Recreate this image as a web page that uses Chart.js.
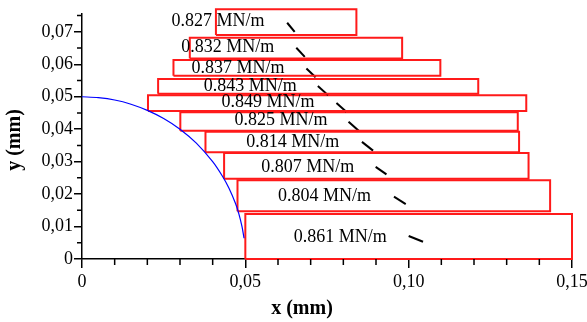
<!DOCTYPE html>
<html>
<head>
<meta charset="utf-8">
<script src="https://cdn.jsdelivr.net/npm/chart.js@4.4.1/dist/chart.umd.min.js"></script>
<style>
  body { margin: 0; background: #fff; }
  #wrap { width: 587px; height: 322px; }
</style>
</head>
<body>
<div id="wrap"><canvas id="myChart"></canvas></div>
<script>
// surface tension labels, top rectangle first
var labels = ['0.827 MN/m', '0.832 MN/m', '0.837 MN/m', '0.843 MN/m', '0.849 MN/m',
              '0.825 MN/m', '0.814 MN/m', '0.807 MN/m', '0.804 MN/m', '0.861 MN/m'];
var labelX = [0.0274, 0.0304, 0.0335, 0.0373, 0.0427, 0.0467, 0.0503, 0.0549, 0.0600, 0.0648];
var labelY = [0.0733, 0.0651, 0.0587, 0.0533, 0.0484, 0.0428, 0.0361, 0.0284, 0.0192, 0.0067];

// red boxes
var rectLeft   = [0.0410, 0.0330, 0.0280, 0.0233, 0.0202, 0.0301, 0.0378, 0.0435, 0.0476, 0.0500];
var rectRight  = [0.0840, 0.0980, 0.1097, 0.1213, 0.1360, 0.1334, 0.1338, 0.1367, 0.1433, 0.1500];
var rectBottom = [0.0690, 0.0618, 0.0565, 0.0509, 0.0456, 0.0395, 0.0329, 0.0247, 0.0147, 0.0000];
var rectTop    = [0.0770, 0.0682, 0.0613, 0.0555, 0.0505, 0.0452, 0.0392, 0.0327, 0.0243, 0.0139];

// short black strokes
var segX1 = [0.0628, 0.0656, 0.0687, 0.0722, 0.0779, 0.0816, 0.0857, 0.0899, 0.0955, 0.1000];
var segY1 = [0.0728, 0.0651, 0.0587, 0.0533, 0.0481, 0.0423, 0.0361, 0.0284, 0.0192, 0.0071];
var segX2 = [0.0651, 0.0682, 0.0715, 0.0753, 0.0809, 0.0847, 0.0891, 0.0932, 0.0991, 0.1044];
var segY2 = [0.0700, 0.0623, 0.0560, 0.0505, 0.0454, 0.0395, 0.0334, 0.0261, 0.0169, 0.0053];

// blue profile
var curveX = [0, 0.005, 0.010, 0.015, 0.020, 0.025, 0.030, 0.035, 0.040, 0.043, 0.045, 0.047, 0.048, 0.049, 0.0496];
var curveY = [0.0500, 0.0497, 0.0490, 0.0477, 0.0458, 0.0433, 0.0400, 0.0357, 0.0300, 0.0255, 0.0218, 0.0171, 0.0140, 0.0099, 0.0064];

var xTicks = [0, 0.05, 0.10, 0.15];
var xTickLabels = ['0', '0,05', '0,10', '0,15'];
var xMinor = [0.01, 0.02, 0.03, 0.04, 0.06, 0.07, 0.08, 0.09, 0.11, 0.12, 0.13, 0.14];
var yTicks = [0, 0.01, 0.02, 0.03, 0.04, 0.05, 0.06, 0.07];
var yTickLabels = ['0', '0,01', '0,02', '0,03', '0,04', '0,05', '0,06', '0,07'];
var yMinor = [0.005, 0.015, 0.025, 0.035, 0.045, 0.055, 0.065, 0.075];

var serif = "'Liberation Serif', 'Times New Roman', serif";

var datasets = [];
datasets.push({
    data: curveX.map((x, i) => ({x: x, y: curveY[i]})),
    borderColor: '#0000ff',
    borderWidth: 1.2,
    pointRadius: 0,
    tension: 0.3
});
for (var i = 0; i < labels.length; i++) {
    datasets.push({
        data: [
            {x: rectLeft[i], y: rectBottom[i]},
            {x: rectRight[i], y: rectBottom[i]},
            {x: rectRight[i], y: rectTop[i]},
            {x: rectLeft[i], y: rectTop[i]},
            {x: rectLeft[i], y: rectBottom[i]}
        ],
        borderColor: '#ff1a1a',
        borderWidth: 2,
        pointRadius: 0,
        clip: false
    });
    datasets.push({
        data: [{x: segX1[i], y: segY1[i]}, {x: segX2[i], y: segY2[i]}],
        borderColor: '#000',
        borderWidth: 2,
        pointRadius: 0
    });
}

// text labels, minor ticks and axis titles
var extras = {
    id: 'extras',
    afterDatasetsDraw(chart) {
        var ctx = chart.ctx, xs = chart.scales.x, ys = chart.scales.y;
        ctx.save();
        ctx.fillStyle = '#000';
        ctx.font = '18px ' + serif;
        ctx.textAlign = 'left';
        ctx.textBaseline = 'middle';
        labels.forEach((t, i) => {
            ctx.fillText(t, xs.getPixelForValue(labelX[i]), ys.getPixelForValue(labelY[i]));
        });

        ctx.strokeStyle = '#000';
        ctx.lineWidth = 1.5;
        ctx.beginPath();
        xMinor.forEach(v => {
            var px = xs.getPixelForValue(v);
            ctx.moveTo(px, xs.top);
            ctx.lineTo(px, xs.top + 6);
        });
        yMinor.forEach(v => {
            var py = ys.getPixelForValue(v);
            ctx.moveTo(ys.right, py);
            ctx.lineTo(ys.right - 5, py);
        });
        ctx.stroke();

        ctx.font = 'bold 20px ' + serif;
        ctx.textAlign = 'center';
        ctx.fillText('x (mm)', 302, 309);
        ctx.translate(15, 140);
        ctx.rotate(-Math.PI / 2);
        ctx.fillText('y (mm)', 0, 0);
        ctx.restore();
    }
};

const ctx = document.getElementById('myChart');
new Chart(ctx, {
    type: 'line',
    data: { datasets: datasets },
    plugins: [extras],
    options: {
        responsive: true,
        maintainAspectRatio: false,
        animation: false,
        layout: { padding: { top: 14, right: 15, left: 0, bottom: 0 } },
        plugins: { legend: { display: false }, tooltip: { enabled: false } },
        scales: {
            x: {
                type: 'linear',
                min: 0,
                max: 0.15,
                afterBuildTicks: s => { s.ticks = xTicks.map(v => ({value: v})); },
                afterFit: s => { s.height = 63; s.paddingRight = 0; s.paddingLeft = 0; },
                ticks: {
                    autoSkip: false,
                    maxRotation: 0,
                    padding: 3,
                    color: '#000',
                    font: { family: serif, size: 18 },
                    callback: (v, i) => xTickLabels[i]
                },
                grid: { drawOnChartArea: false, color: '#000', tickLength: 9, lineWidth: 1.5 },
                border: { color: '#000', width: 1.5 }
            },
            y: {
                type: 'linear',
                min: 0,
                max: 0.0755,
                afterBuildTicks: s => { s.ticks = yTicks.map(v => ({value: v})); },
                afterFit: s => { s.width = 82; },
                ticks: {
                    autoSkip: false,
                    padding: 1,
                    color: '#000',
                    font: { family: serif, size: 18 },
                    callback: (v, i) => yTickLabels[i]
                },
                grid: { drawOnChartArea: false, color: '#000', tickLength: 8, lineWidth: 1.5 },
                border: { color: '#000', width: 1.5 }
            }
        }
    }
});
</script>
</body>
</html>
